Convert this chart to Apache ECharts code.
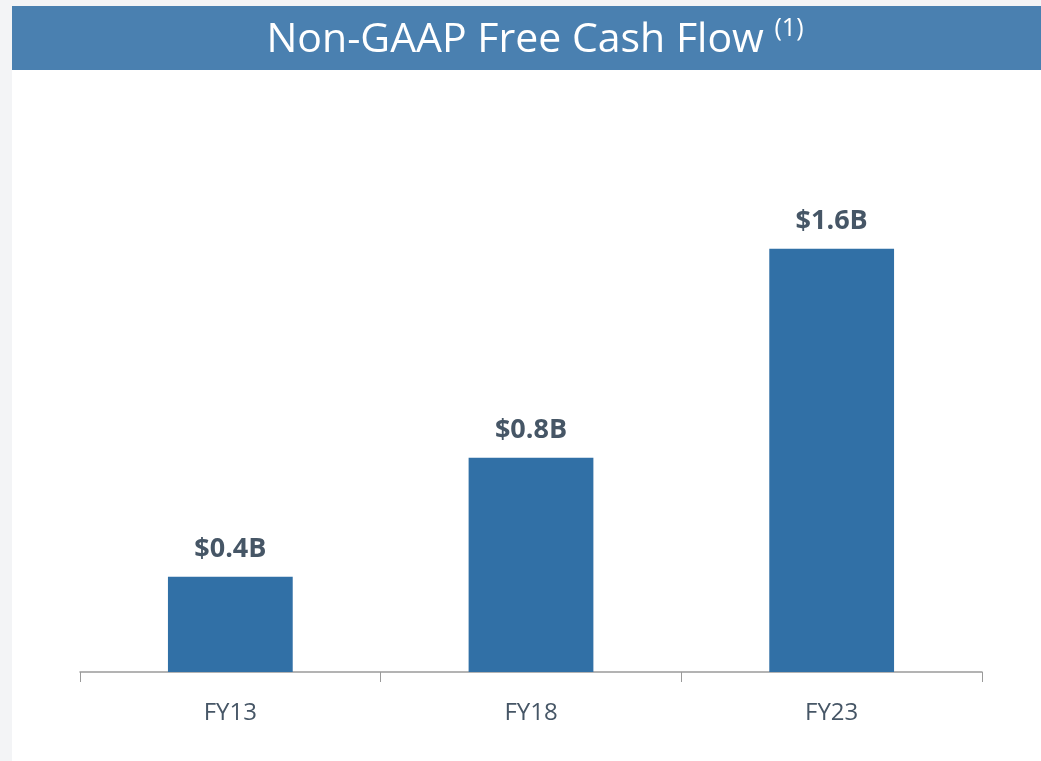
<!DOCTYPE html>
<html lang="en">
  <head>
    <meta charset="UTF-8" />
    <title>Non-GAAP Free Cash Flow</title>
    <script src="https://cdn.jsdelivr.net/npm/echarts@6.0.0/dist/echarts.min.js"></script>
    <style>
      html, body { margin: 0; padding: 0; background: #f3f4f6; }
    </style>
  </head>
  <body>
    <div id="fcfChart" style="width: 1041px; height: 761px"></div>

    <script type="text/javascript">
      // data
      const years = ["FY13", "FY18", "FY23"];
      const fcfValues = [0.36, 0.81, 1.6]; // $B, bar heights
      const fcfLabels = ["$0.4B", "$0.8B", "$1.6B"];

      const textColor = "#465666";
      const chart = echarts.init(document.getElementById("fcfChart"));

      let options = {
        backgroundColor: "#f3f4f6",
        graphic: [
          // white slide panel
          { type: "rect", left: 12, top: 6, shape: { width: 1029, height: 755 }, style: { fill: "#ffffff" }, z: -10 },
          // blue title banner
          { type: "rect", left: 12, top: 6, shape: { width: 1029, height: 64 }, style: { fill: "#4a80b0" }, z: -5 },
        ],
        title: {
          text: "Non-GAAP Free Cash Flow {sup|(1)}",
          left: 530,
          textAlign: "center",
          top: 11,
          textStyle: {
            color: "#ffffff",
            fontFamily: "Open Sans",
            fontWeight: "normal",
            fontSize: 41,
            rich: {
              sup: { fontSize: 25, color: "#ffffff", fontFamily: "Open Sans", verticalAlign: "top", padding: [0, 0, 24, 0] },
            },
          },
        },
        grid: { left: 80, right: 59, top: 143, bottom: 89 },
        xAxis: {
          type: "category",
          data: years,
          axisLine: { lineStyle: { color: "#9a9a9a", width: 1.5 } },
          axisTick: { show: true, length: 10, alignWithLabel: false, lineStyle: { color: "#9a9a9a" } },
          axisLabel: { color: textColor, fontFamily: "Open Sans", fontSize: 24, margin: 29 },
        },
        yAxis: { type: "value", min: 0, max: 2, show: false, splitLine: { show: false } },
        series: [
          {
            type: "bar",
            data: fcfValues,
            barWidth: "41.5%",
            itemStyle: { color: "#3170a6" },
            label: {
              show: true,
              position: "top",
              distance: 14,
              formatter: (p) => fcfLabels[p.dataIndex],
              color: textColor,
              fontFamily: "Open Sans",
              fontWeight: "bold",
              fontSize: 27,
            },
          },
        ],
      };

      chart.setOption(options);
    </script>
  </body>
</html>
